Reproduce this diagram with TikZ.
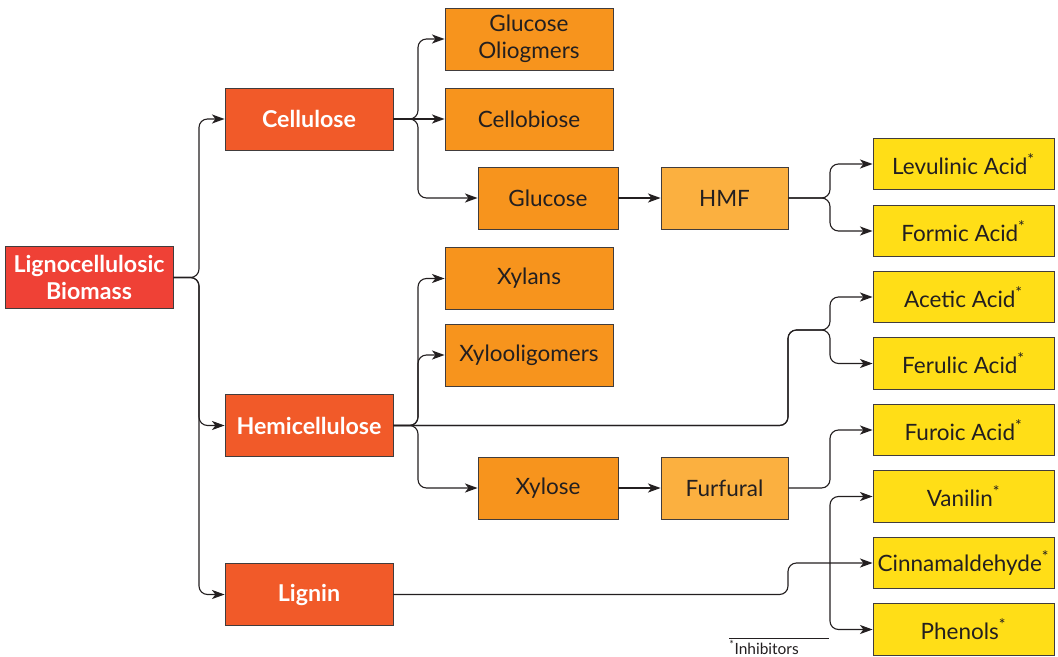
\documentclass[tikz,border=0pt]{standalone}
\usepackage{fontspec}
\setmainfont{Lato}
\usetikzlibrary{arrows.meta}
\definecolor{inkDark}{RGB}{35, 31, 32}
\definecolor{boxLine}{RGB}{65, 60, 60}
\definecolor{fillBiomass}{RGB}{239, 65, 54}
\definecolor{fillPolymer}{RGB}{241, 90, 41}
\definecolor{fillSugar}{RGB}{247, 148, 29}
\definecolor{fillFuran}{RGB}{251, 176, 64}
\definecolor{fillAcid}{RGB}{255, 222, 23}

\begin{document}
\begin{tikzpicture}[x=0.025cm, y=-0.025cm,
    box/.style={draw=boxLine, line width=0.6pt, align=center, inner sep=2pt, text=inkDark,
        font=\fontsize{16pt}{19pt}\selectfont},
    polybox/.style={box, fill=fillPolymer, minimum width=4.2cm, minimum height=1.55cm, text=white,
        font=\fontsize{16.5pt}{19.5pt}\selectfont\bfseries},
    sugarbox/.style={box, fill=fillSugar, minimum width=4.2cm, minimum height=1.55cm},
    monobox/.style={box, fill=fillSugar, minimum width=3.5cm, minimum height=1.55cm},
    furanbox/.style={box, fill=fillFuran, minimum width=3.175cm, minimum height=1.55cm},
    acidbox/.style={box, fill=fillAcid, minimum width=4.525cm, minimum height=1.28cm},
    link/.style={draw=inkDark, line width=0.8pt, rounded corners=6pt,
        -{Stealth[length=9pt, width=6.5pt, inset=2.5pt]}}]
    \useasboundingbox (0,0) rectangle (1058,657);

    % sources
    \node[polybox, fill=fillBiomass] (bio) at (89,277.5) {Lignocellulosic\\Biomass};
    \node[polybox] (cell) at (309,119) {Cellulose};
    \node[polybox] (hemi) at (309,425.5) {Hemicellulose};
    \node[polybox] (lig) at (309,594.5) {Lignin};

    % sugars and furans
    \node[sugarbox] (oligo) at (529,39) {Glucose\\Oliogmers};
    \node[sugarbox] (cbio) at (529,119) {Cellobiose};
    \node[monobox] (gluc) at (548,198) {Glucose};
    \node[furanbox] (hmf) at (724.5,198) {HMF};
    \node[sugarbox] (xylan) at (529,278.5) {Xylans};
    \node[sugarbox] (xoligo) at (529,355) {Xylooligomers};
    \node[monobox] (xyl) at (548,488) {Xylose};
    \node[furanbox] (furf) at (724.5,488) {Furfural};

    % products
    \node[acidbox] (levu) at (963.5,164) {Levulinic Acid\textsuperscript{*}};
    \node[acidbox] (form) at (963.5,231) {Formic Acid\textsuperscript{*}};
    \node[acidbox] (acet) at (963.5,297) {Acetic Acid\textsuperscript{*}};
    \node[acidbox] (feru) at (963.5,363.5) {Ferulic Acid\textsuperscript{*}};
    \node[acidbox] (furo) at (963.5,430) {Furoic Acid\textsuperscript{*}};
    \node[acidbox] (vani) at (963.5,496.5) {Vanilin\textsuperscript{*}};
    \node[acidbox] (cinn) at (963.5,563) {Cinnamaldehyde\textsuperscript{*}};
    \node[acidbox] (phen) at (963.5,629.5) {Phenols\textsuperscript{*}};

    % junctions
    \coordinate (jBio) at (199,277.5);
    \coordinate (jCell) at (418,119);
    \coordinate (jHemi) at (418,425.5);
    \coordinate (jHmf) at (830,198);
    \coordinate (kHemi) at (788,330);
    \coordinate (jAcid) at (830,330);
    \coordinate (jFurf) at (830,488);
    \coordinate (kLig) at (788,563);
    \coordinate (jLig) at (830,563);

    \draw[link] (bio.east) -- (jBio) |- (cell.west);
    \draw[link] (bio.east) -- (jBio) |- (hemi.west);
    \draw[link] (bio.east) -- (jBio) |- (lig.west);

    \draw[link] (cell.east) -- (jCell) |- (oligo.west);
    \draw[link] (cell.east) -- (cbio.west);
    \draw[link] (cell.east) -- (jCell) |- (gluc.west);
    \draw[link] (gluc) -- (hmf);
    \draw[link] (hmf.east) -- (jHmf) |- (levu.west);
    \draw[link] (hmf.east) -- (jHmf) |- (form.west);

    \draw[link] (hemi.east) -- (jHemi) |- (xylan.west);
    \draw[link] (hemi.east) -- (jHemi) |- (xoligo.west);
    \draw[link] (hemi.east) -- (jHemi) |- (xyl.west);
    \draw[link] (hemi.east) -| (kHemi) -- (jAcid) |- (acet.west);
    \draw[link] (hemi.east) -| (kHemi) -- (jAcid) |- (feru.west);
    \draw[link] (xyl) -- (furf);
    \draw[link] (furf.east) -- (jFurf) |- (furo.west);

    \draw[link] (lig.east) -| (kLig) -- (cinn.west);
    \draw[link] (jLig) |- (vani.west);
    \draw[link] (jLig) |- (phen.west);

    % footnote
    \node[anchor=north west, inner sep=0pt, text=inkDark, font=\fontsize{11pt}{12pt}\selectfont]
        (note) at (729,640) {\textsuperscript{*}Inhibitors};
    \draw[inkDark, line width=0.5pt] (note.north west) ++(0,-2) coordinate (ruleA) -- ++(100,0) coordinate (ruleB);
\end{tikzpicture}
\end{document}
